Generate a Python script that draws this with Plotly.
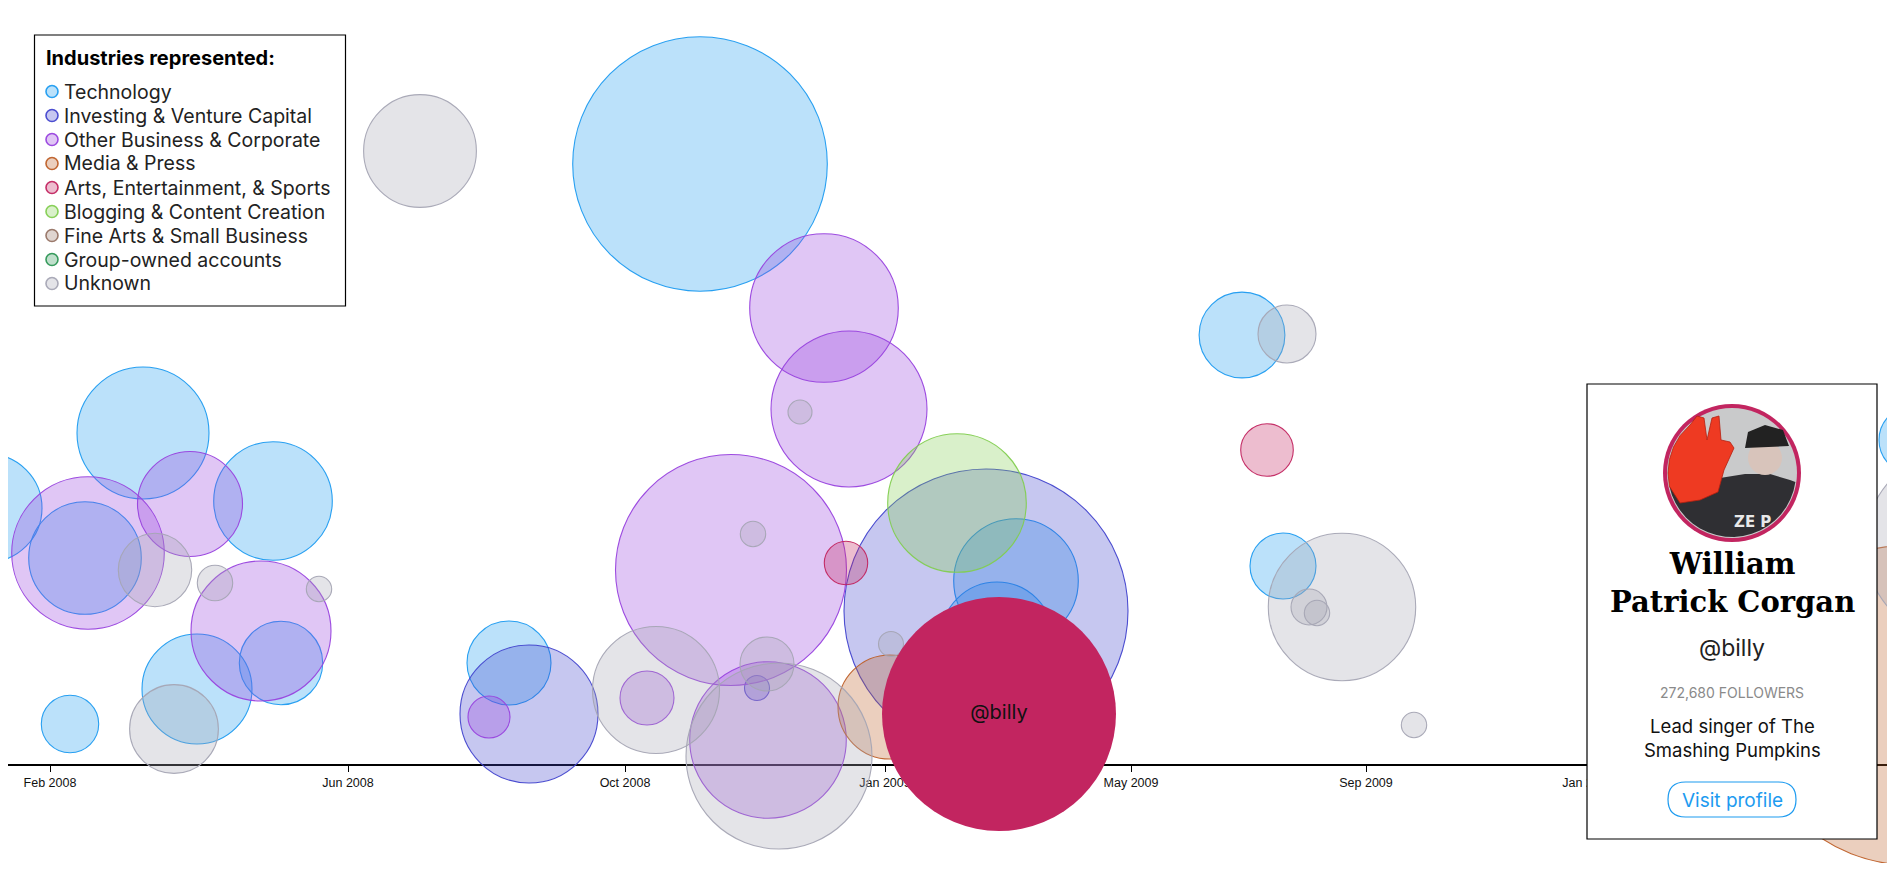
import math
import plotly.graph_objects as go

# page is 1895x871; the html body keeps its default 8px margin
FIG_W, FIG_H, PAD = 1879, 855, 8
AXIS_ROW = 765  # page row of the timeline

industries = [
    "Technology",
    "Investing & Venture Capital",
    "Other Business & Corporate",
    "Media & Press",
    "Arts, Entertainment, & Sports",
    "Blogging & Content Creation",
    "Fine Arts & Small Business",
    "Group-owned accounts",
    "Unknown",
]
industry_rgb = [
    (29, 155, 240),
    (66, 68, 205),
    (152, 66, 222),
    (190, 95, 40),
    (194, 37, 96),
    (130, 205, 80),
    (150, 115, 100),
    (45, 150, 85),
    (165, 165, 180),
]

# accounts that followed in the period: industry, position on the signup timeline,
# offset above the timeline (swarm layout) and follower count
acct_industry = [0, 0, 2, 0, 2, 0, 8, 8, 8, 2, 0, 0, 8, 0, 8,
                 0, 1, 2, 8, 2, 2, 8, 4, 8, 1, 2, 8, 3, 8, 0, 2, 2, 8, 5, 1, 0, 0,
                 0, 8, 4, 0, 8, 8, 8, 8, 0, 8, 3]
acct_pos = [-12, 143, 88, 85, 190, 273, 155, 215, 319, 261, 281, 197, 174, 70, 420,
            509, 529, 489, 656, 647, 731, 753, 846, 767, 757, 768, 779, 890, 891, 700, 824, 849, 800, 957, 986, 1016, 997,
            1242, 1287, 1267, 1283, 1342, 1309, 1317, 1414, 1913, 1960, 1910]
acct_offset = [257, 332, 212, 207, 261, 264, 195, 182, 176, 134, 102, 76, 36, 41, 614,
               102, 51, 48, 75, 67, 195, 231, 202, 101, 77, 25, 9, 58, 121, 601, 457, 356, 353, 262, 154, 184, 127,
               430, 431, 315, 199, 158, 158, 152, 40, 325, 220, 60]
acct_followers = [58090, 86770, 115970, 63140, 54900, 70050, 26830, 6240, 3210, 97610, 34640, 60260, 39270, 16410, 63370,
                  35140, 94840, 8790, 80320, 14520, 265740, 3210, 9380, 14520, 3110, 122130, 172290, 53860, 3110, 322800,
                  109970, 121190, 2870, 95670, 401670, 77310, 62470,
                  36660, 16750, 13780, 21690, 108200, 6450, 3210, 3210, 23030, 179780, 509960]

tick_pos = [50, 348, 625, 885, 1131, 1366, 1588]
tick_text = ["Feb 2008", "Jun 2008", "Oct 2008", "Jan 2009", "May 2009", "Sep 2009", "Jan 2010"]

featured_handle = "@billy"
featured_name = "William<br>Patrick Corgan"
featured_followers = 272680
featured_bio = "Lead singer of The<br>Smashing Pumpkins"
featured_industry = 4
featured_pos = 999
featured_offset = 51

FEATURED_DIAM = 234  # px diameter of the featured bubble
# plotly area mode: diameter = sqrt(2 * v / sizeref)
sizeref = 2 * featured_followers / FEATURED_DIAM ** 2


def rgba(c, a):
    return f"rgba({c[0]},{c[1]},{c[2]},{a})"


def X(x):
    return (x - PAD) / FIG_W


def Y(y):
    return 1 - (y - PAD) / FIG_H


def circle(cx, cy, r, **kw):
    return dict(type="circle", xref="paper", yref="paper", layer="above",
                x0=X(cx - r), x1=X(cx + r), y0=Y(cy + r), y1=Y(cy - r), **kw)


def poly(points, **kw):
    d = "M " + " L ".join(f"{X(a):.5f},{Y(b):.5f}" for a, b in points) + " Z"
    return dict(type="path", xref="paper", yref="paper", layer="above", path=d, **kw)


def on_circle(cx, cy, r, deg):
    t = math.radians(deg)
    return (cx + r * math.cos(t), cy + r * math.sin(t))


def label(x, y, text, size, color, family="Inter", anchor="center", **kw):
    return dict(xref="paper", yref="paper", x=X(x), y=Y(y), xanchor=anchor, yanchor="middle",
                text=text, showarrow=False, font=dict(family=family, size=size, color=color), **kw)


fig = go.Figure()

for k, name in enumerate(industries):
    idx = [i for i, c in enumerate(acct_industry) if c == k]
    if not idx:
        continue
    col = industry_rgb[k]
    fig.add_trace(go.Scatter(
        x=[acct_pos[i] for i in idx],
        y=[acct_offset[i] for i in idx],
        mode="markers",
        name=name,
        marker=dict(size=[acct_followers[i] for i in idx], sizemode="area", sizeref=sizeref,
                    opacity=1, color=rgba(col, 0.3), line=dict(color=rgba(col, 0.95), width=1.1)),
        hoverinfo="skip",
        showlegend=False,
    ))

# featured account on top
fig.add_trace(go.Scatter(
    x=[featured_pos], y=[featured_offset],
    mode="markers+text",
    text=[featured_handle],
    textposition="middle center",
    textfont=dict(family="Inter", size=20, color="#111"),
    marker=dict(size=[featured_followers], sizemode="area", sizeref=sizeref, opacity=1,
                color=rgba(industry_rgb[featured_industry], 1), line=dict(width=0)),
    hoverinfo="skip",
    showlegend=False,
))

shapes = []
annotations = []

# legend box
shapes.append(dict(type="rect", xref="paper", yref="paper", layer="above",
                   x0=X(34.5), x1=X(345.5), y0=Y(306), y1=Y(35),
                   line=dict(color="#000", width=1.2), fillcolor="white"))
annotations.append(label(44, 58, "<b>Industries represented:</b>", 20, "#000", anchor="left"))
for k, name in enumerate(industries):
    row = 91.5 + 24 * k
    col = industry_rgb[k]
    shapes.append(circle(52, row, 6, fillcolor=rgba(col, 0.3), line=dict(color=rgba(col, 0.95), width=1.6)))
    annotations.append(label(62, row, name, 19.5, "#222", anchor="left"))

# profile card for the featured account
CX = 1732
shapes.append(dict(type="rect", xref="paper", yref="paper", layer="above",
                   x0=X(1587), x1=X(1877), y0=Y(839), y1=Y(384),
                   line=dict(color="#000", width=1.2), fillcolor="white"))
# avatar
shapes.append(circle(CX, 473, 69, fillcolor="rgb(194,37,96)", line=dict(width=0)))
shapes.append(circle(CX, 473, 65, fillcolor="#c9cacb", line=dict(width=0)))
shirt = [on_circle(CX, 473, 64, d) for d in range(8, 173, 8)]
shirt += [(1690, 492), (1720, 478), (1745, 474), (1770, 474), (1790, 480)]
shapes.append(poly(shirt, fillcolor="#2f2f33", line=dict(width=0)))
shapes.append(circle(1765, 458, 17, fillcolor="#d8c4bb", line=dict(width=0)))
shapes.append(poly([(1745, 448), (1748, 432), (1765, 425), (1783, 430), (1789, 446)],
                   fillcolor="#222", line=dict(width=0)))
hand = [on_circle(CX, 473, 64, d) for d in (168, 180, 192, 204, 216)]
hand += [(1690, 425), (1697, 416), (1704, 418), (1707, 440), (1712, 418), (1719, 416), (1721, 440),
         (1730, 442), (1734, 448), (1724, 470), (1718, 492), (1700, 500), (1680, 503)]
shapes.append(poly(hand, fillcolor="#ee3a22", line=dict(color="#b52010", width=0.8)))
annotations.append(label(1752, 522, "<b>ZE P</b>", 15, "#e8e8e8", family="DejaVu Sans"))

annotations.append(label(CX, 583, f"<b>{featured_name}</b>", 29, "#000", family="DejaVu Serif",
                         align="center"))
annotations.append(label(CX, 648, featured_handle, 23, "#222"))
annotations.append(label(CX, 692, f"{featured_followers:,} FOLLOWERS", 14, "#8a8a8a"))
annotations.append(label(CX, 738, featured_bio, 18.5, "#111", align="center"))
# "Visit profile" pill
bx0, bx1, by0, by1, rr = 1668, 1796, 782, 817, 17.5
pill = (f"M {X(bx0 + rr)},{Y(by0)} L {X(bx1 - rr)},{Y(by0)} "
        f"Q {X(bx1)},{Y(by0)} {X(bx1)},{Y((by0 + by1) / 2)} "
        f"Q {X(bx1)},{Y(by1)} {X(bx1 - rr)},{Y(by1)} L {X(bx0 + rr)},{Y(by1)} "
        f"Q {X(bx0)},{Y(by1)} {X(bx0)},{Y((by0 + by1) / 2)} "
        f"Q {X(bx0)},{Y(by0)} {X(bx0 + rr)},{Y(by0)} Z")
shapes.append(dict(type="path", xref="paper", yref="paper", layer="above", path=pill,
                   line=dict(color="rgb(29,155,240)", width=1.2), fillcolor="white"))
annotations.append(label(CX, 800, "Visit profile", 19, "rgb(29,155,240)"))

fig.update_layout(
    width=FIG_W, height=FIG_H,
    margin=dict(l=0, r=0, t=0, b=0),
    paper_bgcolor="white", plot_bgcolor="white",
    shapes=shapes, annotations=annotations,
    showlegend=False,
    xaxis=dict(range=[PAD, PAD + FIG_W], tickvals=tick_pos, ticktext=tick_text,
               showgrid=False, zeroline=False, showline=True, linecolor="#000", linewidth=1.5,
               ticks="outside", ticklen=6, tickwidth=1.2, tickcolor="#000",
               tickfont=dict(family="Liberation Sans", size=12.5, color="#111"),
               anchor="free", position=1 - (AXIS_ROW - PAD) / FIG_H, layer="below traces",
               fixedrange=True),
    yaxis=dict(range=[AXIS_ROW - PAD - FIG_H, AXIS_ROW - PAD], visible=False, fixedrange=True),
)

fig.write_html("out.html")
